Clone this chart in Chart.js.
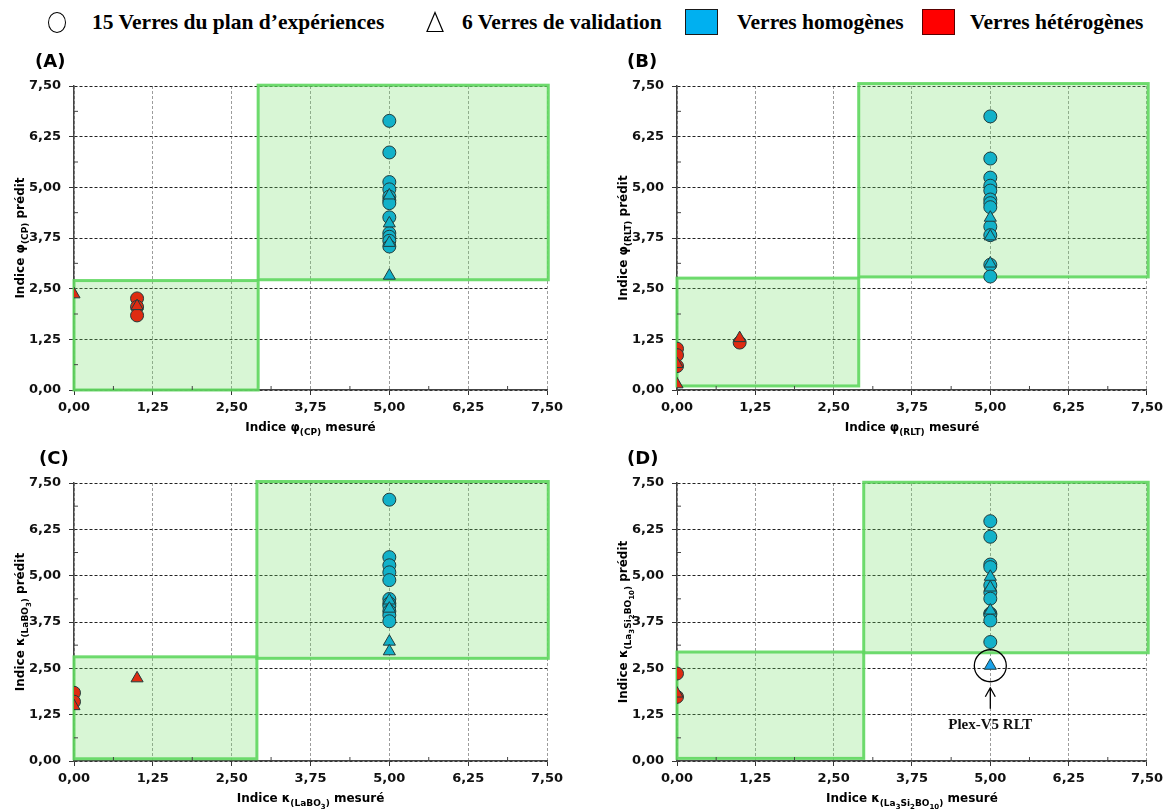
<!DOCTYPE html>
<html>
<head>
<meta charset="utf-8">
<script src="https://cdn.jsdelivr.net/npm/chart.js@4.4.1/dist/chart.umd.min.js"></script>
<style>
  body { margin: 0; width: 1168px; height: 809px; position: relative; background: #fff; overflow: hidden; }
  canvas { position: absolute; }
  #legend { position: absolute; left: 0; top: 0; width: 1168px; height: 44px; font: bold 21.5px "Liberation Serif", serif; color: #000; }
  .lt { position: absolute; top: 9px; white-space: nowrap; line-height: 26px; }
  .sym { position: absolute; box-sizing: border-box; }
</style>
</head>
<body>
<div id="legend">
  <div class="sym" style="left:48px;top:12px;width:18px;height:21px;border:1.5px solid #000;border-radius:50%;"></div>
  <div class="lt" style="left:92px;">15 Verres du plan d’expériences</div>
  <svg class="sym" style="left:426px;top:11px" width="18" height="22"><polygon points="9,1.5 17,20.5 1,20.5" fill="#fff" stroke="#000" stroke-width="1.2"/></svg>
  <div class="lt" style="left:462px;">6 Verres de validation</div>
  <div class="sym" style="left:685px;top:9px;width:33px;height:26px;background:#00b0f0;border:1.5px solid #1a1a1a;"></div>
  <div class="lt" style="left:737px;">Verres homogènes</div>
  <div class="sym" style="left:922px;top:9px;width:33px;height:26px;background:#ff0000;border:1.5px solid #5a0000;"></div>
  <div class="lt" style="left:970px;">Verres hétérogènes</div>
</div>
<canvas id="cA" width="584" height="400" style="left:0;top:40px"></canvas>
<canvas id="cB" width="584" height="400" style="left:584px;top:40px"></canvas>
<canvas id="cC" width="584" height="369" style="left:0;top:440px"></canvas>
<canvas id="cD" width="584" height="369" style="left:584px;top:440px"></canvas>
<script>
// axis ticks (both axes, all panels)
const tickValues = [0, 1.25, 2.5, 3.75, 5, 6.25, 7.5];

// (A) phi(CP): [measured, predicted]
const A_homDesign = [[5,6.64],[5,5.86],[5,5.13],[5,4.95],[5,4.77],[5,4.68],[5,4.61],[5,4.26],[5,3.87],[5,3.78],[5,3.68],[5,3.54]];
const A_hetDesign = [[1,2.26],[1,2.05],[1,1.84]];
const A_homValid  = [[5,4.80],[5,4.11],[5,3.63],[5,2.82]];
const A_hetValid  = [[0,2.36],[1,2.07]];
const A_zones     = [[0,2.92,0,2.70],[2.92,7.52,2.72,7.52]];

// (B) phi(RLT)
const B_homDesign = [[5,6.75],[5,5.71],[5,5.24],[5,5.04],[5,4.92],[5,4.70],[5,4.61],[5,4.51],[5,4.03],[5,3.82],[5,3.09],[5,2.80]];
const B_hetDesign = [[0,1.02],[0,0.86],[0,0.59],[1,1.17]];
const B_homValid  = [[5,4.25],[5,3.79],[5,3.12]];
const B_hetValid  = [[0,0.64],[0,0.14],[1,1.28]];
const B_zones     = [[0,2.90,0.10,2.76],[2.90,7.52,2.79,7.56]];

// (C) kappa(LaBO3)
const C_homDesign = [[5,7.05],[5,5.50],[5,5.28],[5,5.09],[5,4.88],[5,4.37],[5,4.25],[5,4.18],[5,4.04],[5,3.93],[5,3.77]];
const C_hetDesign = [[0,1.84],[0,1.60]];
const C_homValid  = [[5,4.33],[5,4.11],[5,3.22],[5,2.96]];
const C_hetValid  = [[0,1.48],[1,2.23]];
const C_zones     = [[0,2.90,0.06,2.81],[2.90,7.52,2.77,7.54]];

// (D) kappa(La3Si2BO10)
const D_homDesign = [[5,6.47],[5,6.05],[5,5.30],[5,5.23],[5,4.74],[5,4.55],[5,4.38],[5,3.98],[5,3.95],[5,3.79],[5,3.21]];
const D_hetDesign = [[0,2.36],[0,1.73]];
const D_homValid  = [[5,4.97],[5,4.68],[5,4.06]];
const D_plexValid = [[5,2.57]];
const D_hetValid  = [[0,1.82]];
const D_zones     = [[0,2.98,0.07,2.94],[2.98,7.52,2.92,7.52]];

const BLUE = '#12b1c9', RED = '#de2b12', PLEX = '#1aa2ea', EDGE = '#203c3c';
const fmt = v => Number(v).toFixed(2).replace('.', ',');

function fontFor(l) { return 'bold ' + [12, 9, 7][l] + 'px "DejaVu Sans"'; }
function richWidth(ctx, segs) {
  let w = 0;
  segs.forEach(([t, l]) => { ctx.font = fontFor(l); w += ctx.measureText(t).width; });
  return w;
}
function drawRich(ctx, segs, x, y) {
  let cx = x - richWidth(ctx, segs) / 2;
  ctx.textBaseline = 'alphabetic';
  ctx.textAlign = 'left';
  segs.forEach(([t, l]) => {
    ctx.font = fontFor(l);
    ctx.fillText(t, cx, y + 4 + [0, 4, 7][l]);
    cx += ctx.measureText(t).width;
  });
}

const panelDecor = {
  id: 'panelDecor',
  beforeDatasetsDraw(chart, args, o) {
    const { ctx, chartArea: a, scales: { x, y } } = chart;
    ctx.save();
    o.zones.forEach(z => {
      const x0 = x.getPixelForValue(z[0]), x1 = x.getPixelForValue(z[1]);
      const y0 = y.getPixelForValue(z[2]), y1 = y.getPixelForValue(z[3]);
      ctx.fillStyle = 'rgba(110,220,100,0.27)';
      ctx.fillRect(x0, y1, x1 - x0, y0 - y1);
      ctx.strokeStyle = 'rgba(95,215,95,0.9)';
      ctx.lineWidth = 3;
      ctx.strokeRect(x0, y1, x1 - x0, y0 - y1);
    });
    // minor ticks, pointing inwards
    ctx.strokeStyle = '#444';
    ctx.lineWidth = 1;
    ctx.beginPath();
    for (let i = 0; i < tickValues.length - 1; i++) {
      const m = (tickValues[i] + tickValues[i + 1]) / 2;
      const px = x.getPixelForValue(m), py = y.getPixelForValue(m);
      ctx.moveTo(a.left, py); ctx.lineTo(a.left + 4, py);
      ctx.moveTo(px, a.bottom); ctx.lineTo(px, a.bottom - 4);
    }
    ctx.stroke();
    ctx.restore();
  },
  afterDraw(chart, args, o) {
    const { ctx, chartArea: a, scales: { x, y } } = chart;
    ctx.save();
    ctx.fillStyle = '#000';
    ctx.font = 'bold 18px "DejaVu Sans"';
    ctx.textBaseline = 'middle';
    ctx.fillText(o.letter, a.left - o.letterDx, a.top - 24);
    drawRich(ctx, o.xTitle, (a.left + a.right) / 2, a.bottom + 37);
    ctx.translate(a.left - 54, (a.top + a.bottom) / 2);
    ctx.rotate(-Math.PI / 2);
    drawRich(ctx, o.yTitle, 0, 0);
    ctx.restore();
    if (o.mark) {
      const px = x.getPixelForValue(o.mark[0]), py = y.getPixelForValue(o.mark[1]);
      ctx.save();
      ctx.strokeStyle = '#000';
      ctx.lineWidth = 1.3;
      ctx.beginPath(); ctx.arc(px, py, 16, 0, Math.PI * 2); ctx.stroke();
      ctx.beginPath();
      ctx.moveTo(px, py + 43); ctx.lineTo(px, py + 22);
      ctx.moveTo(px - 5, py + 31); ctx.lineTo(px, py + 22); ctx.lineTo(px + 5, py + 31);
      ctx.stroke();
      ctx.fillStyle = '#111';
      ctx.font = 'bold 15px "Liberation Serif"';
      ctx.textAlign = 'center';
      ctx.textBaseline = 'middle';
      ctx.fillText(o.markLabel, px, py + 59);
      ctx.restore();
    }
  }
};

function pts(data, color, style) {
  return {
    data: data.map(([x, y]) => ({ x, y })),
    pointStyle: style,
    pointRadius: style === 'triangle' ? 7 : 6.5,
    backgroundColor: color,
    borderColor: EDGE,
    borderWidth: 1
  };
}

function axis(gridColor, size) {
  return {
    type: 'linear', min: 0, max: 7.5,
    afterBuildTicks: s => { s.ticks = tickValues.map(v => ({ value: v })); },
    ticks: { callback: fmt, color: '#111', font: { family: 'DejaVu Sans', size: 13, weight: 'bold' }, padding: size.pad, maxRotation: 0 },
    grid: { color: gridColor, lineWidth: 1, tickColor: '#333', tickLength: 5 },
    border: { color: '#444', width: 1.5, dash: [3, 2] },
    afterFit: s => { if (size.w) s.width = size.w; if (size.h) s.height = size.h; }
  };
}

function makeChart(id, p) {
  const sets = [
    pts(p.homValid, BLUE, 'triangle'),
    pts(p.hetValid, RED, 'triangle'),
    pts(p.homDesign, BLUE, 'circle'),
    pts(p.hetDesign, RED, 'circle')
  ];
  if (p.plex) sets.unshift(pts(p.plex, PLEX, 'triangle'));
  new Chart(document.getElementById(id), {
    type: 'scatter',
    data: { datasets: sets },
    options: {
      responsive: false, animation: false, events: [],
      layout: { padding: { left: 0, right: p.padR, top: p.padT, bottom: 0 } },
      plugins: {
        legend: { display: false }, tooltip: { enabled: false },
        panelDecor: {
          zones: p.zones, letter: p.letter, letterDx: p.letterDx,
          xTitle: p.xTitle, yTitle: p.yTitle,
          mark: p.plex ? p.plex[0] : null, markLabel: 'Plex-V5 RLT'
        }
      },
      scales: {
        x: axis('#9c9c9c', { h: p.xAxisH, pad: 5 }),
        y: axis('#222', { w: p.yAxisW, pad: 8 })
      }
    },
    plugins: [panelDecor]
  });
}

makeChart('cA', {
  homDesign: A_homDesign, hetDesign: A_hetDesign, homValid: A_homValid, hetValid: A_hetValid, zones: A_zones,
  letter: '(A)', letterDx: 39, yAxisW: 74, padR: 37, padT: 46, xAxisH: 50,
  xTitle: [['Indice φ', 0], ['(CP)', 1], [' mesuré', 0]],
  yTitle: [['Indice φ', 0], ['(CP)', 1], [' prédit', 0]]
});
makeChart('cB', {
  homDesign: B_homDesign, hetDesign: B_hetDesign, homValid: B_homValid, hetValid: B_hetValid, zones: B_zones,
  letter: '(B)', letterDx: 50, yAxisW: 93, padR: 18, padT: 46, xAxisH: 50,
  xTitle: [['Indice φ', 0], ['(RLT)', 1], [' mesuré', 0]],
  yTitle: [['Indice φ', 0], ['(RLT)', 1], [' prédit', 0]]
});
makeChart('cC', {
  homDesign: C_homDesign, hetDesign: C_hetDesign, homValid: C_homValid, hetValid: C_hetValid, zones: C_zones,
  letter: '(C)', letterDx: 35, yAxisW: 74, padR: 37, padT: 43, xAxisH: 48,
  xTitle: [['Indice κ', 0], ['(LaBO', 1], ['3', 2], [')', 1], [' mesuré', 0]],
  yTitle: [['Indice κ', 0], ['(LaBO', 1], ['3', 2], [')', 1], [' prédit', 0]]
});
makeChart('cD', {
  homDesign: D_homDesign, hetDesign: D_hetDesign, homValid: D_homValid, hetValid: D_hetValid, zones: D_zones,
  plex: D_plexValid,
  letter: '(D)', letterDx: 50, yAxisW: 93, padR: 18, padT: 43, xAxisH: 48,
  xTitle: [['Indice κ', 0], ['(La', 1], ['3', 2], ['Si', 1], ['2', 2], ['BO', 1], ['10', 2], [')', 1], [' mesuré', 0]],
  yTitle: [['Indice κ', 0], ['(La', 1], ['3', 2], ['Si', 1], ['2', 2], ['BO', 1], ['10', 2], [')', 1], [' prédit', 0]]
});
</script>
</body>
</html>
